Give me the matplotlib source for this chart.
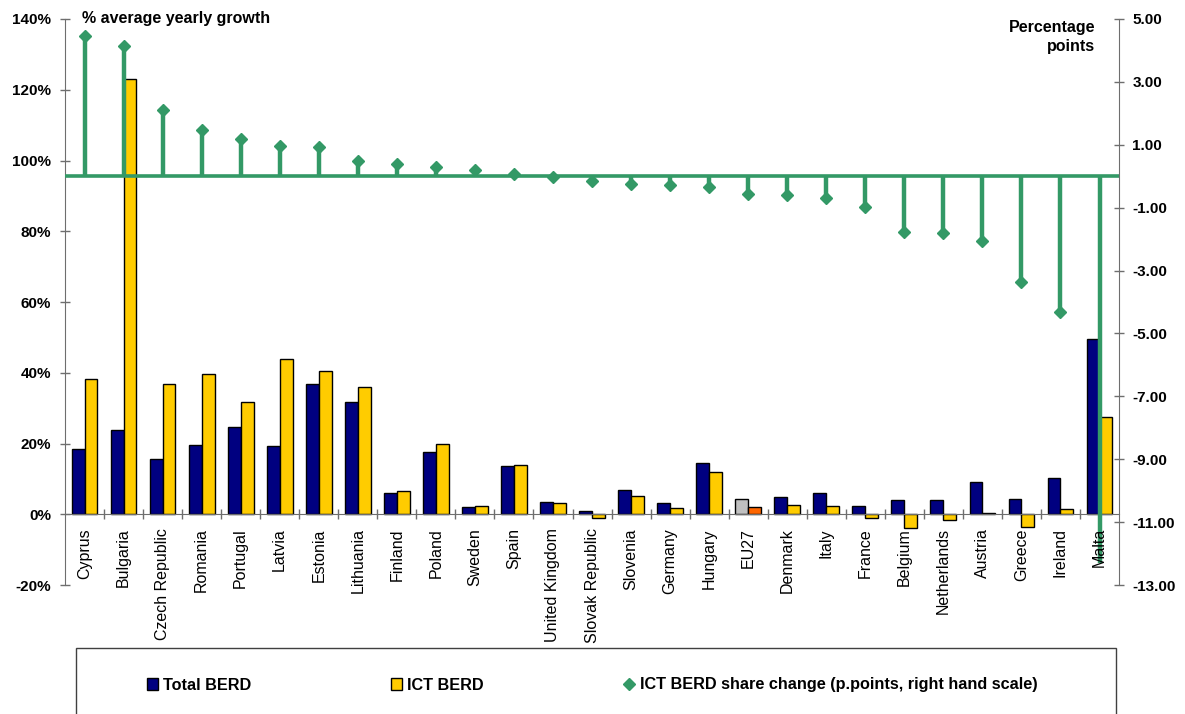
import numpy as np
import matplotlib
matplotlib.use("Agg")
import matplotlib.pyplot as plt
from matplotlib import font_manager
from matplotlib.patches import Rectangle

countries = ['Cyprus', 'Bulgaria', 'Czech Republic', 'Romania', 'Portugal', 'Latvia',
             'Estonia', 'Lithuania', 'Finland', 'Poland', 'Sweden', 'Spain',
             'United Kingdom', 'Slovak Republic', 'Slovenia', 'Germany', 'Hungary',
             'EU27', 'Denmark', 'Italy', 'France', 'Belgium', 'Netherlands', 'Austria',
             'Greece', 'Ireland', 'Malta']
total_berd = [18.5, 23.7, 15.7, 19.7, 24.8, 19.2, 36.9, 31.6, 5.9, 17.5, 2.0, 13.7,
              3.6, 1.0, 6.8, 3.1, 14.6, 4.4, 4.8, 6.1, 2.4, 3.9, 3.9, 9.2, 4.4, 10.2, 49.6]
ict_berd = [38.1, 122.9, 36.8, 39.7, 31.6, 43.8, 40.5, 35.9, 6.5, 19.8, 2.4, 13.9,
            3.1, -1.0, 5.1, 1.7, 11.9, 2.1, 2.5, 2.4, -1.2, -3.8, -1.6, 0.3, -3.5, 1.4, 27.6]
share_change = [4.47, 4.13, 2.12, 1.47, 1.19, 0.95, 0.92, 0.50, 0.40, 0.29, 0.21, 0.08,
                -0.04, -0.16, -0.24, -0.27, -0.34, -0.55, -0.60, -0.68, -0.97, -1.76,
                -1.82, -2.06, -3.35, -4.31, -12.3]

green = '#339966'
axis_grey = '#6e6e6e'

plt.rcParams['font.family'] = ['Liberation Sans', 'DejaVu Sans']

names = {f.name for f in font_manager.fontManager.ttflist}
if 'Liberation Sans Narrow' in names:
    legend_font = dict(family='Liberation Sans Narrow', weight='bold', size=14)
else:
    legend_font = dict(family='Liberation Sans', weight='bold', size=11.7)

fig = plt.figure(figsize=(11.85, 7.14), dpi=100)
ax = fig.add_axes([0.05485, 0.18067, 0.8895, 0.79272])

x = np.arange(len(countries))
w = 0.33
navy_cols = ['#C0C0C0' if c == 'EU27' else '#000080' for c in countries]
yel_cols = ['#FF6600' if c == 'EU27' else '#FFCC00' for c in countries]
b1 = ax.bar(x - w / 2, total_berd, w, color=navy_cols, edgecolor='black', linewidth=1, zorder=1)
b2 = ax.bar(x + w / 2, ict_berd, w, color=yel_cols, edgecolor='black', linewidth=1, zorder=1)

ax.set_xlim(-0.5, len(countries) - 0.5)
ax.set_ylim(-20, 140)
ax.set_yticks(np.arange(-20, 141, 20))
ax.set_yticklabels([f'{v}%' for v in range(-20, 141, 20)], fontsize=11, fontweight='bold')
ax.tick_params(axis='y', direction='inout', length=7, width=1, color=axis_grey, pad=6.5)
ax.spines['bottom'].set_position(('data', 0))
for s in ['top', 'right']:
    ax.spines[s].set_visible(False)
for s in ['left', 'bottom']:
    ax.spines[s].set_color(axis_grey)

ax2 = ax.twinx()
ax2.set_ylim(-13, 5)
ax2.set_yticks(np.arange(-13, 6, 2))
ax2.set_yticklabels([f'{v:.2f}' for v in range(-13, 6, 2)], fontsize=11, fontweight='bold')
ax2.tick_params(axis='y', direction='inout', length=7, width=1, color=axis_grey, pad=6)
ax2.axhline(0, color=green, lw=2.6, zorder=2)
ax2.vlines(x, 0, share_change, color=green, lw=3.2, zorder=2)
pts, = ax2.plot(x, share_change, 'D', color=green, ms=6, ls='none',
                markevery=list(range(len(countries) - 1)), zorder=2)
for s in ['top', 'left', 'bottom']:
    ax2.spines[s].set_visible(False)
ax2.spines['right'].set_color(axis_grey)

# country names drawn on the twin so they sit above the stems
ax2.xaxis.set_visible(True)
ax2.set_axisbelow(False)
ax2.spines['bottom'].set_position(('axes', 0.125))
ax2.set_xticks(x)
ax2.set_xticklabels(countries, rotation=90, fontsize=11.5)
ax2.set_xticks(x[:-1] + 0.5, minor=True)
ax2.tick_params(axis='x', which='major', length=0, pad=10)
ax2.tick_params(axis='x', which='minor', length=0)

# shared x ticker: primary axis keeps only the boundary marks on the zero line
ax.tick_params(axis='x', which='major', length=0, labelbottom=False)
ax.tick_params(axis='x', which='minor', direction='inout', length=7, width=1,
               color=axis_grey, labelbottom=False)

fig.text(82 / 1185, 1 - 18 / 714, '% average yearly growth', fontsize=11.5,
         fontweight='bold', va='center', ha='left')
fig.text(1095 / 1185, 1 - 20 / 714, 'Percentage\npoints', fontsize=11.5,
         fontweight='bold', va='top', ha='right', multialignment='right', linespacing=1.3)

fig.patches.append(Rectangle((76 / 1185, -0.05), (1116 - 76) / 1185, 0.05 + 66 / 714,
                             transform=fig.transFigure, fill=False, edgecolor='#404040',
                             linewidth=1))
fig.legend([b1, b2, pts], ['Total BERD', 'ICT BERD',
                           'ICT BERD share change (p.points, right hand scale)'],
           loc='center left', bbox_to_anchor=(140 / 1185, 1 - 685 / 714), ncol=3,
           frameon=False, columnspacing=8.6, handlelength=0.7, handleheight=0.7,
           handletextpad=0.3, borderaxespad=0, prop=legend_font)

fig.savefig('out.png', dpi=100)
